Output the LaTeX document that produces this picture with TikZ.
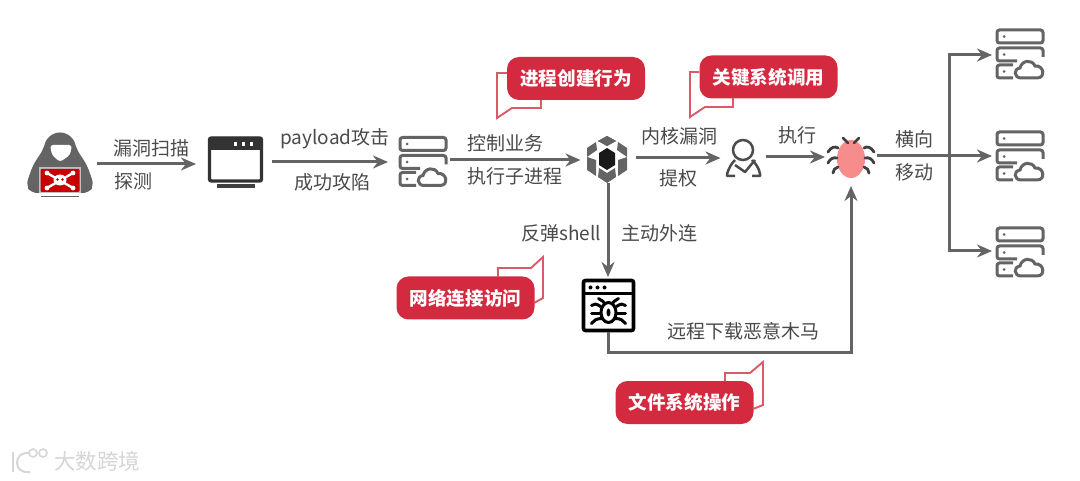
\documentclass[tikz,border=0pt]{standalone}
\usepackage{fontspec}
\setmainfont{Noto Sans CJK SC}
\usetikzlibrary{arrows.meta}
\definecolor{flowgray}{HTML}{646464}
\definecolor{labelgray}{HTML}{4A4A4A}
\definecolor{tagred}{HTML}{D42A40}
\definecolor{tailred}{HTML}{DA5A68}
\definecolor{bugpink}{HTML}{F68C8C}
\definecolor{markgray}{HTML}{D6D6D6}
\tikzset{
  flow/.style={draw=flowgray,line width=3pt,-{Stealth[length=15pt,width=13pt]}},
  lbl/.style={text=labelgray,font=\fontsize{19}{22}\selectfont,inner sep=0pt},
  tag/.style={fill=tagred,text=white,rounded corners=12pt,minimum width=138pt,minimum height=43pt,
    inner sep=0pt,font=\fontsize{18.6}{22}\selectfont\bfseries},
  tail/.style={draw=tailred,line width=1.9pt,line join=miter},
  spot/.style={inner sep=0pt,outer sep=0pt,minimum width=#1},
  srv/.style={draw=flowgray,line width=3pt,rounded corners=2.5pt},
  wmark/.style={text=markgray,font=\fontsize{21.5}{24}\selectfont,inner sep=0pt},
  pics/server/.style={code={
    \draw[srv] (-23,-24) rectangle (23,-11);
    \draw[srv] (-3,7) -- (-23,7) -- (-23,-6) -- (23,-6) -- (23,3);
    \draw[srv] (-7,11) -- (-23,11) -- (-23,24) -- (-7,24);
    \draw[srv,rounded corners=0pt] (1,24) .. controls (-6,24) and (-7,15) .. (0,14)
      .. controls (2,6) and (12,5) .. (15,12) .. controls (24,11) and (26,24) .. (17,24) -- cycle;
    \foreach \yy in {-17.5,0.5,17.5} \fill[flowgray] (-16,\yy) circle[radius=1.5];
  }},
  pics/hacker/.style={code={
    \fill[flowgray,rounded corners=6pt] (0,-34) -- (13,-28) -- (17,-15) -- (27,0) -- (34,20)
      -- (29,28) -- (-29,28) -- (-34,20) -- (-27,0) -- (-17,-15) -- (-13,-28) -- cycle;
    \fill[white,rounded corners=3pt] (-10,-20) -- (12,-20) -- (10,-10) -- (0,-3) -- (-8,-10) -- cycle;
    \fill[white!60!flowgray] (-21,2.5) rectangle (21,28.5);
    \fill[red!78!black,rounded corners=1pt] (-19.5,4) rectangle (19.5,27);
    \fill[flowgray] (-19,31) rectangle (19,32.5);
    \draw[white,line width=2.4pt,line cap=round] (-13,8) -- (13,23) (13,8) -- (-13,23);
    \foreach \xx/\yy in {-13/8,13/8,-13/23,13/23} \fill[white] (\xx,\yy) circle[radius=2.4];
    \fill[white] (0,15) ellipse[x radius=6.5,y radius=5.5];
    \fill[red!78!black] (-2.5,14.5) circle[radius=1.3] (2.5,14.5) circle[radius=1.3];
  }},
  pics/browser/.style={code={
    \draw[draw=black!80,line width=3.4pt,rounded corners=2pt] (-26,-21) rectangle (26,22);
    \fill[black!80,rounded corners=2pt] (-27,-22) rectangle (27,-9);
    \foreach \xx in {0,8,16} \fill[white] (\xx-1.8,-17) rectangle (\xx+1.8,-13);
    \draw[black!75,line width=3.4pt] (-19,27) -- (19,27);
  }},
  pics/cube/.style={code={
    \fill[black!90] (0,-10) -- (8,-5) -- (8,7) -- (0,12) -- (-8,7) -- (-8,-5) -- cycle;
    \foreach \sx in {1,-1} {
      \begin{scope}[xscale=\sx]
        \fill[flowgray] (0,-22) -- (9,-17) -- (0,-12) -- (-9,-17) -- cycle;
        \fill[flowgray] (11,-16) -- (20,-10) -- (20,-1) -- (10,-8) -- cycle;
        \fill[flowgray] (11,2) -- (20,-1) -- (20,12) -- (11,18) -- cycle;
        \fill[flowgray] (0,15) -- (8,10) -- (9,19) -- (0,25) -- cycle;
      \end{scope}
    }
  }},
  pics/person/.style={code={
    \draw[draw=black!70,line width=2.5pt] (0,-7) circle[radius=10];
    \draw[draw=black!70,line width=2.5pt,line join=round] (-8,19) -- (-16,19) -- (-16,17)
      .. controls (-14,11) and (-12,7) .. (-8,3);
    \draw[draw=black!70,line width=2.5pt,line join=round] (9,19) -- (17,19) -- (17,17)
      .. controls (16,11) and (13,7) .. (9,3);
    \draw[draw=black!70,line width=2.5pt,line join=round] (-8,8) -- (2,15) -- (12,3);
  }},
  pics/bugicon/.style={code={
    \fill[bugpink] (0,2) ellipse[x radius=14,y radius=19];
    \draw[draw=black!75,line width=2.8pt,line cap=round] (-8,-19) -- (-3,-14) (8,-19) -- (3,-14);
    \foreach \sx in {1,-1} {
      \begin{scope}[xscale=\sx]
        \draw[draw=black!75,line width=2.8pt,line cap=round] (13,-9) .. controls (16,-11) and (20,-10) .. (23,-5);
        \draw[draw=black!75,line width=2.8pt,line cap=round] (14,1) .. controls (18,0) and (21,2) .. (23,6);
        \draw[draw=black!75,line width=2.8pt,line cap=round] (13,10) .. controls (16,11) and (18,13) .. (18,16);
      \end{scope}
    }
  }},
  pics/winbug/.style={code={
    \draw[draw=black,line width=3.6pt,rounded corners=2pt] (-25,-25) rectangle (25,25);
    \draw[draw=black,line width=3pt] (-25,-12) -- (25,-12);
    \foreach \xx in {-18,-11,-4} \fill[black] (\xx,-18) circle[radius=2];
    \draw[draw=black,line width=3pt] (0,7) ellipse[x radius=7.5,y radius=10];
    \fill[black] (0,7) ellipse[x radius=2,y radius=4];
    \foreach \sx in {1,-1} {
      \begin{scope}[xscale=\sx]
        \draw[draw=black,line width=3pt,line cap=round] (4,-2) .. controls (6,-6) and (9,-5) .. (10,-7);
        \draw[draw=black,line width=3pt,line cap=round] (8,1) .. controls (12,-2) and (15,-2) .. (17,0);
        \draw[draw=black,line width=3pt,line cap=round] (8,8) -- (17,8);
        \draw[draw=black,line width=3pt,line cap=round] (7,13) .. controls (12,13) and (15,15) .. (17,18);
      \end{scope}
    }
  }}
}
\begin{document}
\begin{tikzpicture}[x=1pt,y=-1pt]
  \useasboundingbox (0,0) rectangle (1080,481);
  \fill[white] (0,0) rectangle (1080,481);
  % icon anchors, arrows leave at their centre height
  \node[spot=70pt,minimum height=60pt] (hacker) at (62,164) {};
  \node[spot=76pt,minimum height=50pt] (browser) at (234,162) {};
  \node[spot=62pt,minimum height=50pt] (srvmain) at (419,160) {};
  \node[spot=55pt,minimum height=50pt] (cube) at (608,158) {};
  \node[spot=45pt,minimum height=44pt] (person) at (743,157) {};
  \node[spot=52pt,minimum height=60pt] (bug) at (851,156) {};
  \node[spot=54pt,minimum height=55pt] (winbug) at (608,304.5) {};
  \node[spot=54pt,minimum height=50pt] (srvtop) at (1019,55) {};
  \node[spot=54pt,minimum height=50pt] (srvmid) at (1019,156) {};
  \node[spot=54pt,minimum height=50pt] (srvbot) at (1019,251) {};
  \pic at (60,165) {hacker};
  \pic at (235.5,159) {browser};
  \pic at (423,161.5) {server};
  \pic at (607,158) {cube};
  \pic at (743,157) {person};
  \pic at (851,157) {bugicon};
  \pic at (608.5,305.5) {winbug};
  \pic at (1020,54) {server};
  \pic at (1020,156) {server};
  \pic at (1020,252) {server};
  \draw[flow] (hacker.east) -- (hacker.east-|browser.west);
  \draw[flow] (browser.east) -- (browser.east-|srvmain.west);
  \draw[flow] (srvmain.east) -- (srvmain.east-|cube.west);
  \draw[flow] (cube.east) -- (cube.east-|person.west);
  \draw[flow] (person.east) -- (person.east-|bug.west);
  \draw[flow] (bug.east) -- (srvmid.west);
  \coordinate (fork) at (949,156);
  \draw[flow] (fork) |- (srvtop.west);
  \draw[flow] (fork) |- (srvbot.west);
  \draw[flow] (cube.south) -- (winbug.north);
  \coordinate (drop) at (608,353);
  \draw[flow] (winbug.south) -- (drop) -| (bug.south);
  % labels on the arrows
  \node[lbl] (lscan) at (151,148) {漏洞扫描};
  \node[lbl] (lprobe) at (133,181) {探测};
  \node[lbl] (lpay) at (335,139) {payload攻击};
  \node[lbl] (lhit) at (332,182) {成功攻陷};
  \node[lbl] (lctl) at (505,143) {控制业务};
  \node[lbl] (lsub) at (515,176) {执行子进程};
  \node[lbl] (lker) at (679,136) {内核漏洞};
  \node[lbl] (lpriv) at (678,178) {提权};
  \node[lbl] (lrun) at (797,135) {执行};
  \node[lbl] (lhor) at (914,139) {横向};
  \node[lbl] (lmov) at (914,172) {移动};
  \node[lbl] (lshell) at (561,233) {反弹shell};
  \node[lbl] (lout) at (659,233) {主动外连};
  \node[lbl] (ltroj) at (743,331) {远程下载恶意木马};
  % red tags
  \node[tag] (tproc) at (576,78.5) {进程创建行为};
  \node[tag] (tsys) at (768.5,77) {关键系统调用};
  \node[tag] (tnet) at (465.5,298) {网络连接访问};
  \node[tag] (tfile) at (684.5,402.5) {文件系统操作};
  \draw[tail] (tproc.west|-0,73) -- (497,73) -- (497,118) -- (512,108) -- (541,108) -- (541,100);
  \draw[tail] (tsys.west|-0,72) -- (690,72) -- (690,117) -- (705,107) -- (733,107) -- (733,98);
  \draw[tail] (498,277) -- (498,268) -- (531,268) -- (543,257) -- (543,298) -- (534,303);
  \draw[tail] (725,381) -- (725,373) -- (750,373) -- (763,362) -- (763,405) -- (753,409);
  % watermark
  \node[wmark] (wtext) at (97,461) {大数跨境};
  \draw[draw=markgray,line width=2pt] (13,452) -- (13,472);
  \draw[draw=markgray,line width=2pt] (30,453) .. controls (20,452) and (17,458) .. (17,463) .. controls (17,469) and (22,473) .. (30,472);
  \draw[draw=markgray,line width=1.6pt] (33,453) circle[radius=4] (43,453) circle[radius=4];
\end{tikzpicture}
\end{document}
